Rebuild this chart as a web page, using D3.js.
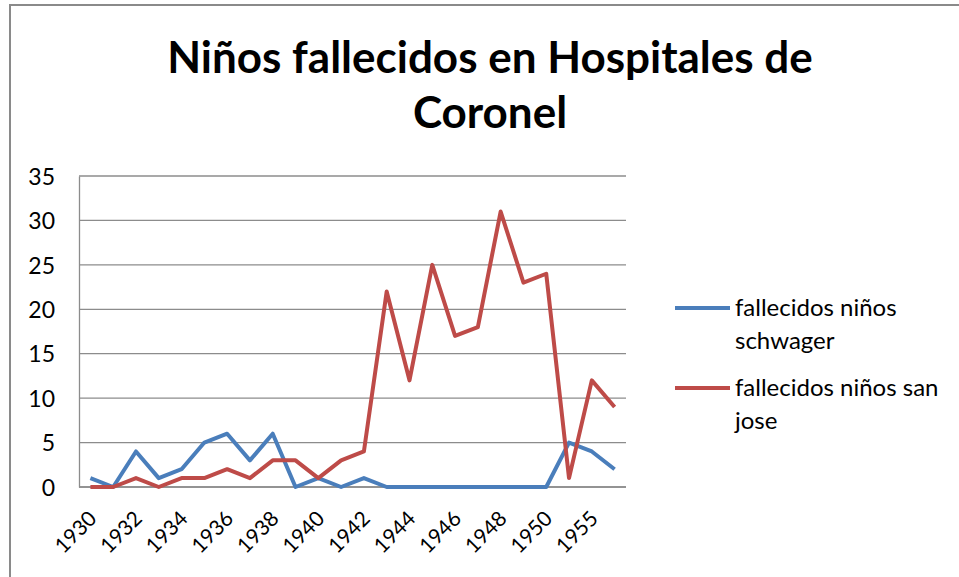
<!DOCTYPE html>
<html>
<head>
<meta charset="utf-8">
<script src="https://cdn.jsdelivr.net/npm/d3@7"></script>
<style>
  body { margin: 0; background: #fff; }
  text { font-family: Lato, "Open Sans", sans-serif; fill: #000; }
</style>
</head>
<body>
<script>
// values
var years = ["1930","1931","1932","1933","1934","1935","1936","1937","1938","1939",
             "1940","1941","1942","1943","1944","1945","1946","1947","1948","1949",
             "1950","1954","1955","1956"];
var schwager = [1,0,4,1,2,5,6,3,6,0,1,0,1,0,0,0,0,0,0,0,0,5,4,2];
var sanJose  = [0,0,1,0,1,1,2,1,3,3,1,3,4,22,12,25,17,18,31,23,24,1,12,9];
var yTicks = [0,5,10,15,20,25,30,35];
var titleLines = ["Niños fallecidos en Hospitales de", "Coronel"];
var seriesNames = [["fallecidos niños", "schwager"], ["fallecidos niños san", "jose"]];
var seriesColors = ["#4A7EBB", "#BE4B48"];

var width = 959, height = 577;
var plotLeft = 79, plotRight = 626, plotTop = 176, plotBottom = 487;

var svg = d3.select("body").append("svg")
  .attr("width", width)
  .attr("height", height);

// outer frame (only top and left edge visible)
svg.append("line").attr("x1", 9).attr("x2", width).attr("y1", 5).attr("y2", 5)
  .attr("stroke", "#8a8a8a").attr("stroke-width", 2);
svg.append("line").attr("x1", 10).attr("x2", 10).attr("y1", 4).attr("y2", height)
  .attr("stroke", "#8a8a8a").attr("stroke-width", 2);

// title
svg.append("g").selectAll("text")
  .data(titleLines)
  .enter().append("text")
  .attr("x", 490)
  .attr("y", function(d, i) { return 73 + i * 55; })
  .attr("text-anchor", "middle")
  .style("font-size", "44px")
  .style("font-weight", "bold")
  .text(function(d) { return d; });

var x = d3.scalePoint().domain(years).range([plotLeft, plotRight]).padding(0.5);
var y = d3.scaleLinear().domain([0, 35]).range([plotBottom, plotTop]);

// gridlines
svg.append("g").selectAll("line")
  .data(yTicks)
  .enter().append("line")
  .attr("x1", plotLeft).attr("x2", plotRight)
  .attr("y1", function(d) { return y(d); })
  .attr("y2", function(d) { return y(d); })
  .attr("stroke", "#8c8c8c")
  .attr("stroke-width", 1.3);

// y axis
var yAxis = svg.append("g")
  .attr("transform", "translate(" + plotLeft + ",0)")
  .call(d3.axisLeft(y).tickValues(yTicks).tickSize(0).tickPadding(24));
yAxis.select(".domain").attr("stroke", "#8c8c8c").attr("stroke-width", 1.3);
yAxis.selectAll("text").style("font-size", "23px").attr("dy", "0.36em");

// x axis
var xAxis = svg.append("g")
  .attr("transform", "translate(0," + plotBottom + ")")
  .call(d3.axisBottom(x).tickSize(0).tickFormat(function(d, i) { return i % 2 === 0 ? d : ""; }));
xAxis.select(".domain").attr("stroke", "#8c8c8c").attr("stroke-width", 1.3)
  .attr("d", "M" + plotLeft + ",0H" + plotRight);
xAxis.selectAll("text")
  .style("font-size", "21px")
  .attr("text-anchor", "end")
  .attr("dy", null)
  .attr("y", 0)
  .attr("transform", "translate(7,33) rotate(-45)");

// lines
var line = d3.line()
  .x(function(d, i) { return x(years[i]); })
  .y(function(d) { return y(d); });

[schwager, sanJose].forEach(function(s, k) {
  svg.append("path")
    .datum(s)
    .attr("d", line)
    .attr("fill", "none")
    .attr("stroke", seriesColors[k])
    .attr("stroke-width", 4)
    .attr("stroke-linejoin", "round");
});

// legend
var legend = svg.append("g").selectAll("g")
  .data(seriesNames)
  .enter().append("g")
  .attr("transform", function(d, i) { return "translate(675," + (308 + i * 80) + ")"; });
legend.append("line")
  .attr("x1", 0).attr("x2", 55)
  .attr("stroke", function(d, i) { return seriesColors[i]; })
  .attr("stroke-width", 4);
legend.append("text")
  .attr("x", 60)
  .attr("y", 8)
  .style("font-size", "24px")
  .selectAll("tspan")
  .data(function(d) { return d; })
  .enter().append("tspan")
  .attr("x", 60)
  .attr("dy", function(d, i) { return i === 0 ? 0 : 33; })
  .text(function(d) { return d; });
</script>
</body>
</html>
